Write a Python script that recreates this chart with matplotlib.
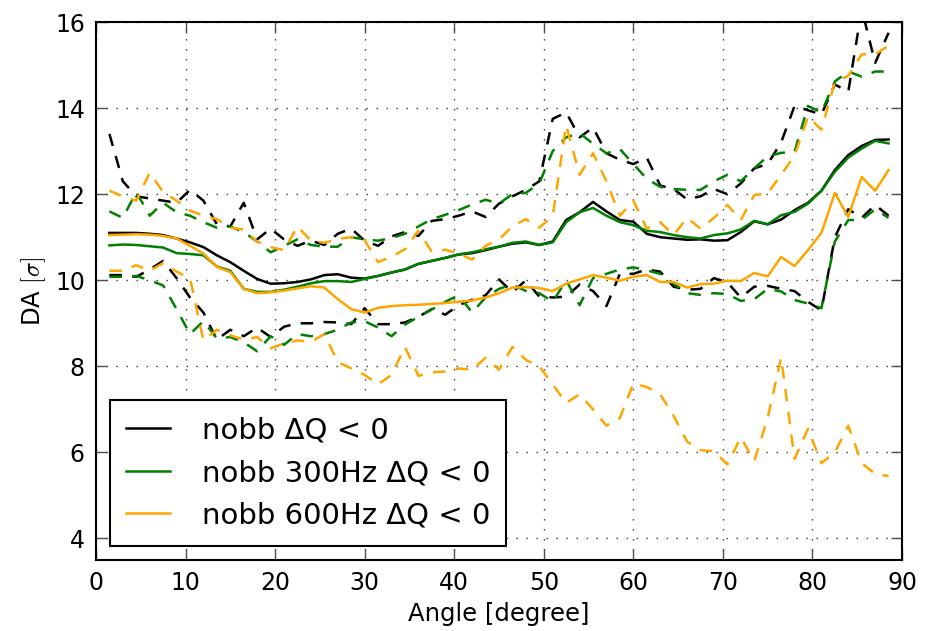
import matplotlib
matplotlib.use("Agg")
import matplotlib.pyplot as plt

plt.rcParams['font.family'] = ['DejaVu Sans']
plt.rcParams['mathtext.fontset'] = 'cm'
plt.rcParams['lines.scale_dashes'] = False

# angles in degree
angle = [1.5, 3.0, 4.5, 6.0, 7.5, 9.0, 10.5, 12.0, 13.5, 15.0,
         16.5, 18.0, 19.5, 21.0, 22.5, 24.0, 25.5, 27.0, 28.5, 30.0,
         31.5, 33.0, 34.5, 36.0, 37.5, 39.0, 40.5, 42.0, 43.5, 45.0,
         46.5, 48.0, 49.5, 51.0, 52.5, 54.0, 55.5, 57.0, 58.5, 60.0,
         61.5, 63.0, 64.5, 66.0, 67.5, 69.0, 70.5, 72.0, 73.5, 75.0,
         76.5, 78.0, 79.5, 81.0, 82.5, 84.0, 85.5, 87.0, 88.5]

# nobb
da_mean = [11.10, 11.10, 11.10, 11.08, 11.05, 10.97, 10.88, 10.77, 10.58, 10.42,
           10.22, 10.03, 9.92, 9.93, 9.96, 10.02, 10.12, 10.14, 10.06, 10.04,
           10.10, 10.18, 10.25, 10.38, 10.45, 10.52, 10.60, 10.63, 10.70, 10.78,
           10.85, 10.88, 10.82, 10.90, 11.40, 11.58, 11.82, 11.60, 11.40, 11.36,
           11.08, 11.00, 10.97, 10.94, 10.95, 10.92, 10.93, 11.12, 11.37, 11.30,
           11.41, 11.63, 11.80, 12.08, 12.56, 12.91, 13.12, 13.26, 13.27]
da_max = [13.40, 12.30, 11.95, 11.90, 11.85, 11.80, 12.10, 11.85, 11.30, 11.25,
          11.80, 10.95, 11.20, 10.95, 10.80, 10.92, 10.82, 11.08, 11.20, 10.92,
          10.80, 11.02, 11.12, 11.03, 11.38, 11.42, 11.50, 11.60, 11.47, 11.78,
          11.95, 12.10, 12.30, 13.75, 13.90, 13.32, 13.55, 12.95, 12.80, 12.70,
          12.85, 12.20, 12.12, 11.88, 11.95, 12.12, 12.00, 12.25, 12.60, 12.70,
          13.20, 14.05, 13.95, 13.85, 14.55, 14.38, 16.30, 15.05, 15.75]
da_min = [10.12, 10.12, 10.08, 10.25, 10.45, 10.05, 9.60, 9.25, 8.62, 8.85,
          8.70, 8.90, 8.68, 8.92, 9.00, 9.00, 9.03, 9.02, 8.98, 9.35,
          8.98, 8.98, 9.02, 9.15, 9.33, 9.20, 9.42, 9.55, 9.65, 10.02,
          9.72, 10.00, 9.62, 9.60, 9.62, 9.90, 9.75, 9.40, 10.15, 10.15,
          10.25, 10.20, 9.85, 9.78, 9.80, 10.05, 9.95, 9.60, 9.85, 9.87,
          9.80, 9.75, 9.50, 9.30, 11.00, 11.65, 11.45, 11.75, 11.50]

# nobb 300Hz
da300_mean = [10.81, 10.83, 10.82, 10.79, 10.76, 10.63, 10.61, 10.58, 10.32, 10.22,
              9.80, 9.73, 9.73, 9.78, 9.85, 9.93, 9.98, 9.98, 9.96, 10.03,
              10.10, 10.18, 10.25, 10.38, 10.45, 10.52, 10.60, 10.65, 10.72, 10.78,
              10.87, 10.90, 10.82, 10.88, 11.35, 11.58, 11.68, 11.50, 11.35, 11.28,
              11.15, 11.12, 11.05, 11.00, 10.97, 11.05, 11.09, 11.18, 11.38, 11.30,
              11.51, 11.59, 11.78, 12.08, 12.52, 12.85, 13.06, 13.24, 13.18]
da300_max = [11.60, 11.45, 12.05, 11.50, 11.80, 11.58, 11.50, 11.35, 11.22, 11.25,
             11.12, 10.90, 10.65, 10.80, 10.95, 10.82, 10.78, 10.78, 11.00, 10.95,
             10.92, 10.98, 11.08, 11.25, 11.42, 11.52, 11.63, 11.76, 11.87, 11.78,
             12.00, 12.03, 12.25, 13.00, 13.32, 13.42, 13.17, 12.95, 13.05, 12.70,
             12.36, 12.17, 12.12, 12.10, 12.10, 12.30, 12.45, 12.30, 12.60, 12.88,
             12.96, 12.98, 14.05, 13.90, 14.62, 14.85, 14.73, 14.85, 14.85]
da300_min = [10.08, 10.08, 10.10, 10.00, 9.88, 9.33, 8.75, 9.05, 8.65, 8.68,
             8.56, 8.35, 8.70, 8.50, 8.75, 8.70, 8.75, 8.85, 9.02, 9.05,
             8.90, 8.70, 8.97, 9.15, 9.32, 9.50, 9.65, 9.25, 9.60, 9.80,
             9.90, 9.75, 9.70, 9.50, 10.00, 9.42, 10.05, 10.15, 10.25, 10.30,
             10.23, 10.15, 9.92, 9.70, 9.66, 9.70, 9.68, 9.52, 9.56, 9.80,
             9.74, 9.54, 9.46, 9.35, 10.90, 11.40, 11.40, 11.65, 11.45]

# nobb 600Hz
da600_mean = [11.05, 11.06, 11.07, 11.06, 11.03, 10.97, 10.80, 10.62, 10.31, 10.19,
              9.80, 9.70, 9.72, 9.76, 9.81, 9.86, 9.83, 9.56, 9.33, 9.25,
              9.36, 9.40, 9.42, 9.43, 9.45, 9.47, 9.50, 9.53, 9.60, 9.70,
              9.83, 9.84, 9.82, 9.75, 9.92, 10.02, 10.12, 10.06, 9.99, 10.08,
              10.12, 9.96, 9.96, 9.83, 9.91, 9.92, 9.99, 9.98, 10.17, 10.09,
              10.54, 10.33, 10.70, 11.10, 12.03, 11.47, 12.40, 12.08, 12.56]
da600_max = [12.08, 11.95, 11.85, 12.50, 12.05, 11.85, 11.62, 11.50, 11.42, 11.22,
             11.18, 10.90, 10.77, 10.70, 11.25, 10.92, 10.87, 10.96, 11.00, 10.93,
             10.42, 10.55, 10.72, 11.15, 10.66, 10.71, 10.62, 10.48, 10.80, 10.95,
             11.25, 11.42, 11.22, 11.50, 13.60, 12.45, 12.95, 12.30, 11.50, 11.85,
             11.20, 11.35, 11.05, 11.45, 11.20, 11.45, 11.75, 11.40, 11.98, 12.02,
             12.45, 12.90, 13.80, 13.50, 14.60, 14.75, 15.25, 15.25, 15.45]
da600_min = [10.22, 10.22, 10.35, 10.22, 10.40, 10.20, 10.05, 8.60, 8.85, 8.72,
             8.62, 8.68, 8.42, 8.53, 8.60, 8.57, 8.75, 8.10, 7.95, 7.80,
             7.58, 7.80, 8.45, 7.78, 7.86, 7.88, 7.95, 7.92, 8.20, 7.92,
             8.45, 8.15, 8.00, 7.58, 7.15, 7.35, 7.00, 6.62, 6.80, 7.60,
             7.52, 7.35, 6.85, 6.25, 6.05, 6.03, 5.72, 6.35, 5.80, 6.80,
             8.20, 5.85, 6.55, 5.75, 6.00, 6.62, 5.75, 5.50, 5.45]

fig = plt.figure(figsize=(9.28, 6.31), dpi=100)
ax = fig.add_axes([0.1034, 0.1125, 0.8686, 0.8526])

dash = (0, (9, 7.5))
lw = 1.8
ax.plot(angle, da_mean, color='k', lw=lw, label='nobb ΔQ < 0')
ax.plot(angle, da_max, color='k', lw=lw, ls=dash)
ax.plot(angle, da_min, color='k', lw=lw, ls=dash)
ax.plot(angle, da300_mean, color='g', lw=lw, label='nobb 300Hz ΔQ < 0')
ax.plot(angle, da300_max, color='g', lw=lw, ls=dash)
ax.plot(angle, da300_min, color='g', lw=lw, ls=dash)
ax.plot(angle, da600_mean, color='orange', lw=lw, label='nobb 600Hz ΔQ < 0')
ax.plot(angle, da600_max, color='orange', lw=lw, ls=dash)
ax.plot(angle, da600_min, color='orange', lw=lw, ls=dash)

ax.set_xlim(0, 90)
ax.set_ylim(3.5, 16)
ax.set_xticks(range(0, 91, 10))
ax.set_yticks(range(4, 17, 2))
ax.grid(True, color='k', lw=1.0, ls=(0, (1, 6.2)), alpha=0.8)
ax.tick_params(direction='in', length=8, width=1, color='0.3', labelsize=17,
               pad=8, top=True, right=True)
for s in ax.spines.values():
    s.set_linewidth(1.5)

ax.set_xlabel('Angle [degree]', fontsize=17.5, labelpad=5)
ax.set_ylabel(r'DA $[\sigma]$', fontsize=17.5, labelpad=5)

leg = ax.legend(loc='lower left', bbox_to_anchor=(0.0174, 0.0266), borderaxespad=0,
                fontsize=21, fancybox=False, framealpha=1, handlelength=1.5,
                handletextpad=1.1, borderpad=0.55, labelspacing=0.5)
leg.get_frame().set_edgecolor('k')
leg.get_frame().set_linewidth(1.5)

fig.savefig('out.png', dpi=100)
